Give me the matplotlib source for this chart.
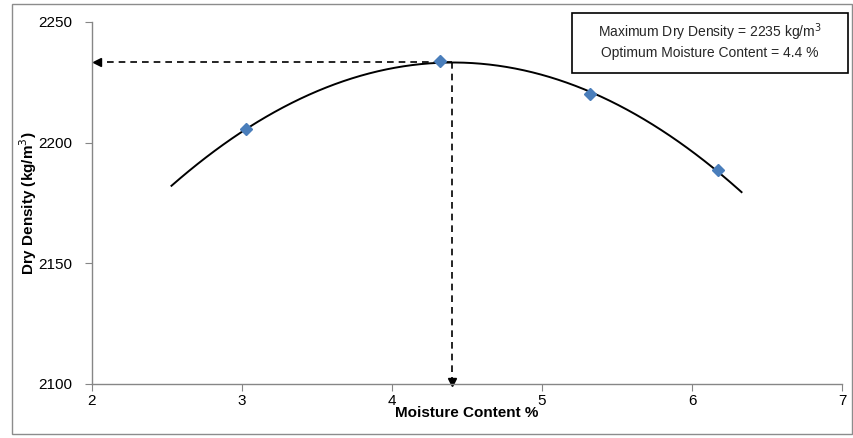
import numpy as np
import matplotlib.pyplot as plt
from matplotlib.patches import Rectangle

# Compaction test results
moisture = [3.03, 4.32, 5.32, 6.17]
dry_density = [2205.5, 2234.0, 2220.0, 2188.5]

# Trendline range and optimum values
fit_start, fit_end = 2.53, 6.33
omc = 4.4
mdd = 2233.5

plt.rcParams['font.family'] = ['Liberation Sans', 'DejaVu Sans']

fig = plt.figure(figsize=(8.54, 4.38), dpi=100)
ax = fig.add_axes([0.1077, 0.1233, 0.8783, 0.8265])

# Outer frame around the chart
fig.patches.append(Rectangle((0.014, 0.009), 0.984, 0.982, transform=fig.transFigure,
                             fill=False, edgecolor='#8c8c8c', linewidth=1.0))

# Polynomial (2nd order) trendline
coef = np.polyfit(moisture, dry_density, 2)
xs = np.linspace(fit_start, fit_end, 200)
ax.plot(xs, np.polyval(coef, xs), color='black', linewidth=1.4, zorder=2)

# Measured points
ax.plot(moisture, dry_density, linestyle='none', marker='D', markersize=6,
        color='#4a7ebb', zorder=3)

# Dashed guide lines to the axes
ax.plot([omc, 2.05], [mdd, mdd], color='black', linestyle=(0, (4, 3)), linewidth=1.2, zorder=2)
ax.plot([2.035], [mdd], marker='<', markersize=6, color='black', clip_on=False)
ax.plot([omc, omc], [mdd, 2101.5], color='black', linestyle=(0, (4, 3)), linewidth=1.2, zorder=2)
ax.plot([omc], [2100.8], marker='v', markersize=6, color='black', clip_on=False)

ax.set_xlim(2, 7)
ax.set_ylim(2100, 2250)
ax.set_xticks([2, 3, 4, 5, 6, 7])
ax.set_yticks([2100, 2150, 2200, 2250])

for side in ['top', 'right']:
    ax.spines[side].set_visible(False)
for side in ['left', 'bottom']:
    ax.spines[side].set_color('#868686')
    ax.spines[side].set_linewidth(1.0)
ax.tick_params(direction='out', length=5, color='#868686', labelsize=11)
ax.tick_params(axis='y', pad=9)
ax.tick_params(axis='x', pad=2)

ax.set_xlabel('Moisture Content %', fontsize=11, fontweight='bold', labelpad=-1)
ax.set_ylabel('Dry Density (kg/m$^3$)', fontsize=11, fontweight='bold', labelpad=0)

# Result box
fig.patches.append(Rectangle((0.670, 0.833), 0.323, 0.138, transform=fig.transFigure,
                             fill=True, facecolor='white', edgecolor='black', linewidth=1.2))
fig.text(0.831, 0.927, 'Maximum Dry Density = 2235 kg/m$^3$', ha='center', va='center',
         fontsize=10, color='#262626')
fig.text(0.831, 0.878, 'Optimum Moisture Content = 4.4 %', ha='center', va='center',
         fontsize=10, color='#262626')

fig.savefig('out.png', dpi=100)
